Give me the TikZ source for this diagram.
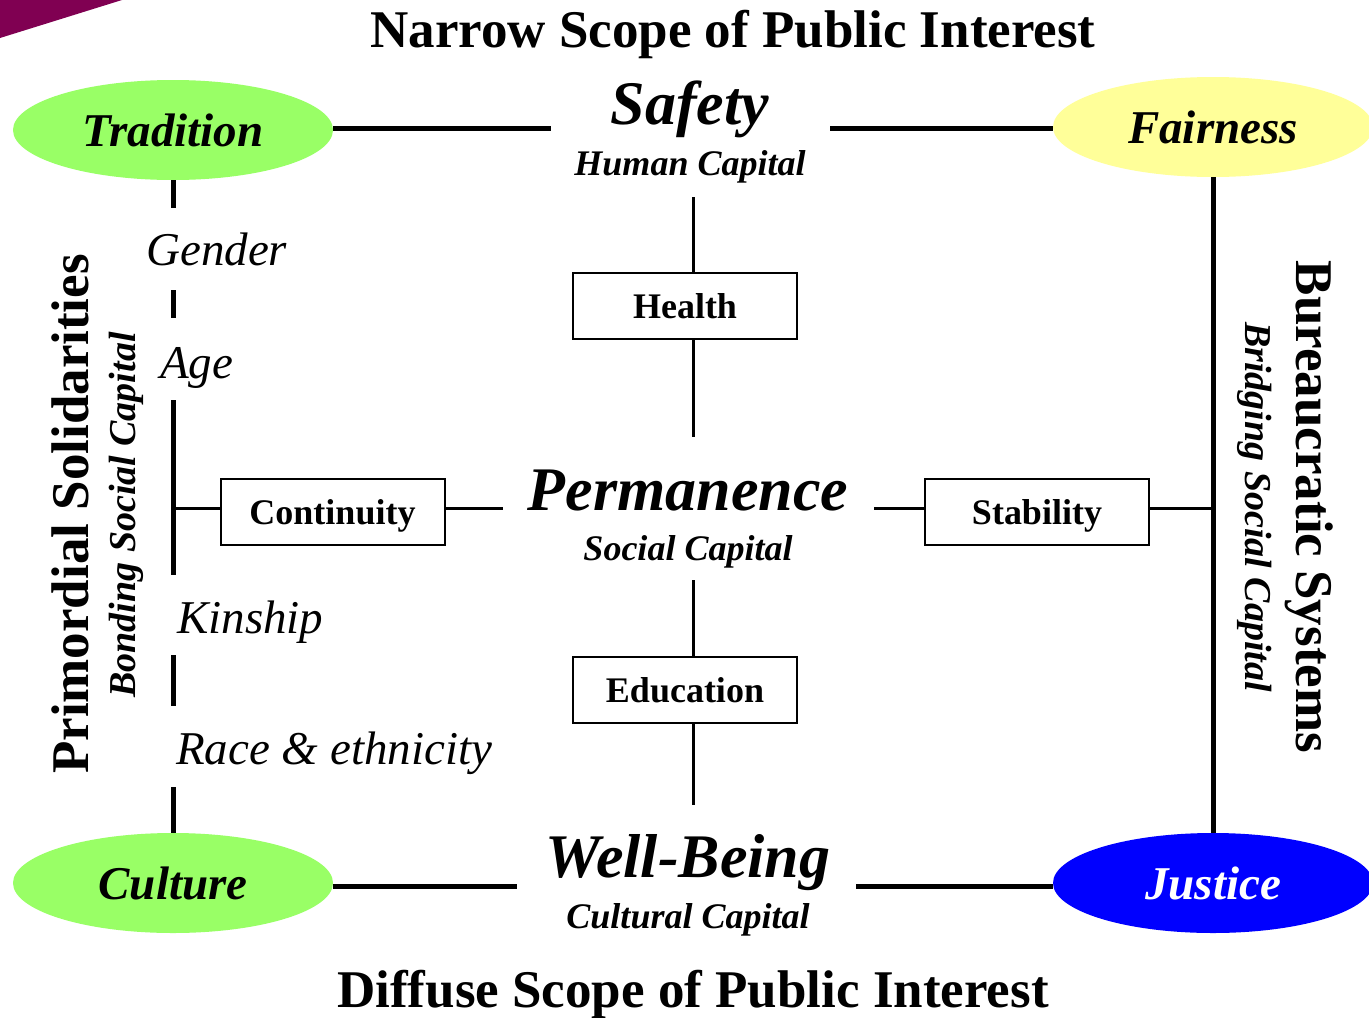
\documentclass[tikz,border=0pt]{standalone}
\usepackage{fontspec}
\setmainfont{Liberation Serif}
\usetikzlibrary{shapes.geometric}
\definecolor{lgreen}{RGB}{153,255,102}
\definecolor{lyellow}{RGB}{255,255,153}
\definecolor{pblue}{RGB}{0,0,255}
\definecolor{plum}{RGB}{128,0,82}
\newcommand{\myfs}[1]{\fontsize{#1}{#1}\selectfont}
\begin{document}
\begin{tikzpicture}[x=1pt,y=-1pt,
  oval/.style={ellipse, minimum width=320, minimum height=100, inner sep=0pt, font=\myfs{47}\bfseries\itshape},
  stepbox/.style={draw, line width=2pt, minimum width=224, minimum height=66, inner sep=0pt, text height=25pt, text depth=0pt, font=\myfs{36}\bfseries},
  heavyline/.style={line width=5pt},
  thinline/.style={line width=3pt},
  bigword/.style={anchor=base, font=\myfs{62}\bfseries\itshape},
  subword/.style={anchor=base, font=\myfs{36}\bfseries\itshape},
  heading/.style={anchor=base, font=\myfs{53}\bfseries},
  sidelabel/.style={anchor=base west, inner sep=0pt, font=\myfs{47}\itshape},
]
\useasboundingbox (0,0) rectangle (1369,1018);
\clip (0,0) rectangle (1369,1018);
\fill[white] (0,0) rectangle (1369,1018);
\fill[plum] (0,0) -- (122,0) -- (0,38) -- cycle;

% headings
\node[heading] (narrow) at (733,47) {Narrow Scope of Public Interest};
\node[heading] (diffuse) at (693,1007) {Diffuse Scope of Public Interest};

% corner ovals
\node[oval, fill=lgreen] (trad) at (173,130) {Tradition};
\node[oval, fill=lyellow] (fair) at (1213,127) {Fairness};
\node[oval, fill=lgreen] (cult) at (173,883) {Culture};
\node[oval, fill=pblue, text=white] (just) at (1213,883) {Justice};

% central words
\node[bigword] (safety) at (690,124) {Safety};
\node[subword] (human) at (690,175) {Human Capital};
\node[bigword] (perm) at (688,510) {Permanence};
\node[subword] (social) at (688,560) {Social Capital};
\node[bigword] (well) at (688,877) {Well-Being};
\node[subword] (cultcap) at (688,928) {Cultural Capital};

% boxes
\node[stepbox] (health) at (685,306) {Health};
\node[stepbox] (edu) at (685,689.5) {Education};
\node[stepbox] (cont) at (332.5,512) {Continuity};
\node[stepbox] (stab) at (1037,512) {Stability};

% side labels
\node[sidelabel] (gender) at (146,265) {Gender};
\node[sidelabel] (age) at (160,378) {Age};
\node[sidelabel] (kin) at (177,633) {Kinship};
\node[sidelabel] (race) at (176,764) {Race \& ethnicity};

% rotated titles
\node[anchor=base, rotate=90, font=\myfs{53}\bfseries] (prim) at (88,514) {Primordial Solidarities};
\node[anchor=base, rotate=90, font=\myfs{38}\bfseries\itshape] (bond) at (135,515) {Bonding Social Capital};
\node[anchor=base, rotate=-90, font=\myfs{53}\bfseries] (bur) at (1296,507) {Bureaucratic Systems};
\node[anchor=base, rotate=-90, font=\myfs{38}\bfseries\itshape] (bridge) at (1245,507) {Bridging Social Capital};

% coordinates for free ends
\coordinate (tL) at (551,128);
\coordinate (tR) at (830,128);
\coordinate (bL) at (517,886);
\coordinate (bR) at (856,886);
\coordinate (gA) at (173,208);
\coordinate (gB) at (173,290);
\coordinate (gC) at (173,318);
\coordinate (gD) at (173,400);
\coordinate (gE) at (173,575);
\coordinate (gF) at (173,655);
\coordinate (gG) at (173,706);
\coordinate (gH) at (173,787);
\coordinate (jL) at (173,508);
\coordinate (jR) at (1213,508);
\coordinate (pL) at (503,508);
\coordinate (pR) at (874,508);
\coordinate (m1) at (693,197);
\coordinate (m2) at (693,437);
\coordinate (m3) at (693,580);
\coordinate (m4) at (693,805);

% heavy frame lines
\draw[heavyline] (trad.east |- tL) -- (tL);
\draw[heavyline] (tR) -- (fair.west |- tR);
\draw[heavyline] (cult.east |- bL) -- (bL);
\draw[heavyline] (bR) -- (just.west |- bR);
\draw[heavyline] (fair.south) -- (just.north);
\draw[heavyline] (trad.south) -- (gA);
\draw[heavyline] (gB) -- (gC);
\draw[heavyline] (gD) -- (gE);
\draw[heavyline] (gF) -- (gG);
\draw[heavyline] (gH) -- (cult.north);

% thin connectors
\draw[thinline] (jL) -- (cont.west |- jL);
\draw[thinline] (cont.east |- pL) -- (pL);
\draw[thinline] (pR) -- (stab.west |- pR);
\draw[thinline] (stab.east |- jR) -- (jR);
\draw[thinline] (m1) -- (m1 |- health.north);
\draw[thinline] (m1 |- health.south) -- (m2);
\draw[thinline] (m3) -- (m3 |- edu.north);
\draw[thinline] (m3 |- edu.south) -- (m4);
\end{tikzpicture}
\end{document}
